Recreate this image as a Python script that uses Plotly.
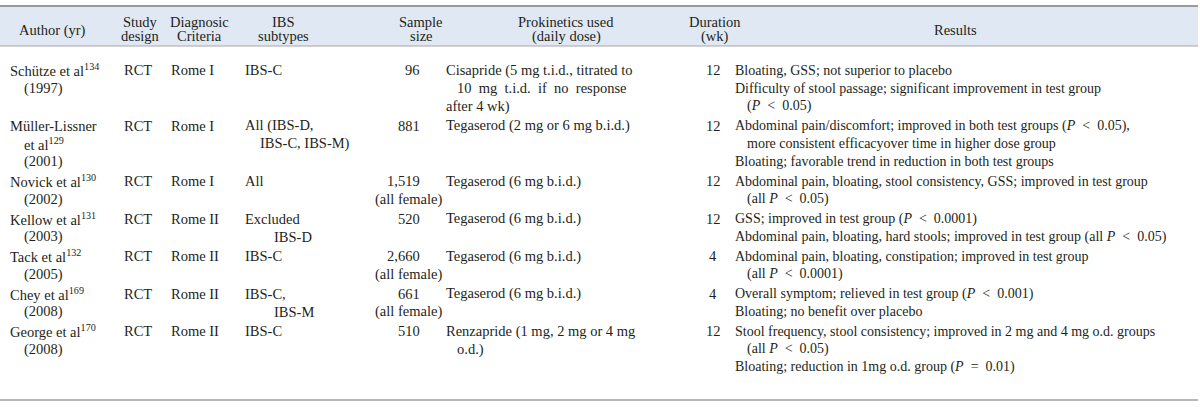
import plotly.graph_objects as go

# table content
headers = [["Author (yr)"], ["Study", "design"], ["Diagnosic", "Criteria"], ["IBS", "subtypes"],
           ["Sample", "size"], ["Prokinetics used", "(daily dose)"], ["Duration", "(wk)"], ["Results"]]

P_LT = "<i>P</i> \u00a0&lt;\u00a0 "

authors = [[["Schütze et al<sup>134</sup>", "(1997)"]],
           [["Müller-Lissner", "et al<sup>129</sup>", "(2001)"]],
           [["Novick et al<sup>130</sup>", "(2002)"]],
           [["Kellow et al<sup>131</sup>", "(2003)"]],
           [["Tack et al<sup>132</sup>", "(2005)"]],
           [["Chey et al<sup>169</sup>", "(2008)"]],
           [["George et al<sup>170</sup>", "(2008)"]]]
design = ["RCT", "RCT", "RCT", "RCT", "RCT", "RCT", "RCT"]
criteria = ["Rome I", "Rome I", "Rome I", "Rome II", "Rome II", "Rome II", "Rome II"]
subtypes = [[["IBS-C"]],
            [["All (IBS-D,", "IBS-C, IBS-M)"]],
            [["All"]],
            [["Excluded", "IBS-D"]],
            [["IBS-C"]],
            [["IBS-C,", "IBS-M"]],
            [["IBS-C"]]]
sample_size = ["96", "881", "1,519", "520", "2,660", "661", "510"]
sample_note = ["", "", "(all female)", "", "(all female)", "(all female)", ""]
prokinetics = [[["Cisapride (5 mg t.i.d., titrated to", "10 \u00a0mg \u00a0t.i.d. \u00a0if \u00a0no \u00a0response"], ["after 4 wk)"]],
               [["Tegaserod (2 mg or 6 mg b.i.d.)"]],
               [["Tegaserod (6 mg b.i.d.)"]],
               [["Tegaserod (6 mg b.i.d.)"]],
               [["Tegaserod (6 mg b.i.d.)"]],
               [["Tegaserod (6 mg b.i.d.)"]],
               [["Renzapride (1 mg, 2 mg or 4 mg", "o.d.)"]]]
duration = ["12", "12", "12", "12", "4", "4", "12"]
results = [
    [["Bloating, GSS; not superior to placebo"],
     ["Difficulty of stool passage; significant improvement in test group", "(" + P_LT + "0.05)"]],
    [["Abdominal pain/discomfort; improved in both test groups (" + P_LT + "0.05),",
      "more consistent efficacyover time in higher dose group"],
     ["Bloating; favorable trend in reduction in both test groups"]],
    [["Abdominal pain, bloating, stool consistency, GSS; improved in test group", "(all " + P_LT + "0.05)"]],
    [["GSS; improved in test group (" + P_LT + "0.0001)"],
     ["Abdominal pain, bloating, hard stools; improved in test group (all " + P_LT + "0.05)"]],
    [["Abdominal pain, bloating, constipation; improved in test group", "(all " + P_LT + "0.0001)"]],
    [["Overall symptom; relieved in test group (" + P_LT + "0.001)"],
     ["Bloating; no benefit over placebo"]],
    [["Stool frequency, stool consistency; improved in 2 mg and 4 mg o.d. groups", "(all " + P_LT + "0.05)"],
     ["Bloating; reduction in 1mg o.d. group (<i>P</i> \u00a0= \u00a00.01)"]],
]

# styling / layout
INK = "#231f20"
FONT = dict(family="Liberation Serif, Times New Roman, serif", size=14.5, color=INK)
RES_FONT = dict(FONT, size=14)
LINE_H = 18
ROW_GAP = 1.5
HEAD_TOP, HEAD_BOT, BODY_TOP, TABLE_BOT = 6, 46, 70, 400
subtype_indent = [0, 15, 0, 29, 0, 29, 0]

fig = go.Figure()
ann = []


def add_text(x, y, text, anchor="left", font=FONT):
    ann.append(dict(x=x, y=y, text=text, showarrow=False, xanchor=anchor, yanchor="middle",
                    xref="x", yref="y", font=font))


# header
head_x = [52, 140, 199, 283, 421, 566, 715, 955]
for hx, lines in zip(head_x, headers):
    ys = [30] if len(lines) == 1 else [22, 36]
    for yy, t in zip(ys, lines):
        add_text(hx, yy, t, "center")


def flat(items):
    return [(ln, i > 0) for item in items for i, ln in enumerate(item)]


y = BODY_TOP
for r in range(len(design)):
    cells = [flat(authors[r]), flat(subtypes[r]), flat(prokinetics[r]), flat(results[r])]
    n = max(len(c) for c in cells)
    n = max(n, 2 if sample_note[r] else 1)
    col_x = [(8, 14), (243, subtype_indent[r]), (444, 11), (733, 12)]
    for ci, ((x0, indent), cell) in enumerate(zip(col_x, cells)):
        f = RES_FONT if ci == 3 else FONT
        for k, (ln, cont) in enumerate(cell):
            add_text(x0 + (indent if cont else 0), y + k * LINE_H, ln, font=f)
    add_text(122, y, design[r])
    add_text(169, y, criteria[r])
    add_text(422, y, sample_size[r], "right")
    if sample_note[r]:
        add_text(408, y + LINE_H, sample_note[r], "center")
    add_text(713, y, duration[r], "center")
    y += n * LINE_H + ROW_GAP

shapes = [
    dict(type="rect", xref="x", yref="y", x0=0, x1=1198, y0=HEAD_TOP, y1=HEAD_BOT,
         fillcolor="#dfe8f3", line=dict(width=0), layer="below"),
    dict(type="line", xref="x", yref="y", x0=0, x1=1198, y0=HEAD_TOP, y1=HEAD_TOP,
         line=dict(color="#9a9a9a", width=2)),
    dict(type="line", xref="x", yref="y", x0=0, x1=1198, y0=HEAD_BOT, y1=HEAD_BOT,
         line=dict(color="#a8a8a8", width=1)),
    dict(type="line", xref="x", yref="y", x0=0, x1=1198, y0=TABLE_BOT, y1=TABLE_BOT,
         line=dict(color="#a0a0a0", width=1.5)),
]

fig.update_layout(
    width=1200, height=407,
    margin=dict(l=0, r=0, t=0, b=0),
    paper_bgcolor="white", plot_bgcolor="white",
    xaxis=dict(range=[0, 1200], visible=False, fixedrange=True),
    yaxis=dict(range=[407, 0], visible=False, fixedrange=True),
    annotations=ann, shapes=shapes, showlegend=False,
)

fig.write_html("out.html", config={"displayModeBar": False},
               post_script="document.body.style.margin='0';")
